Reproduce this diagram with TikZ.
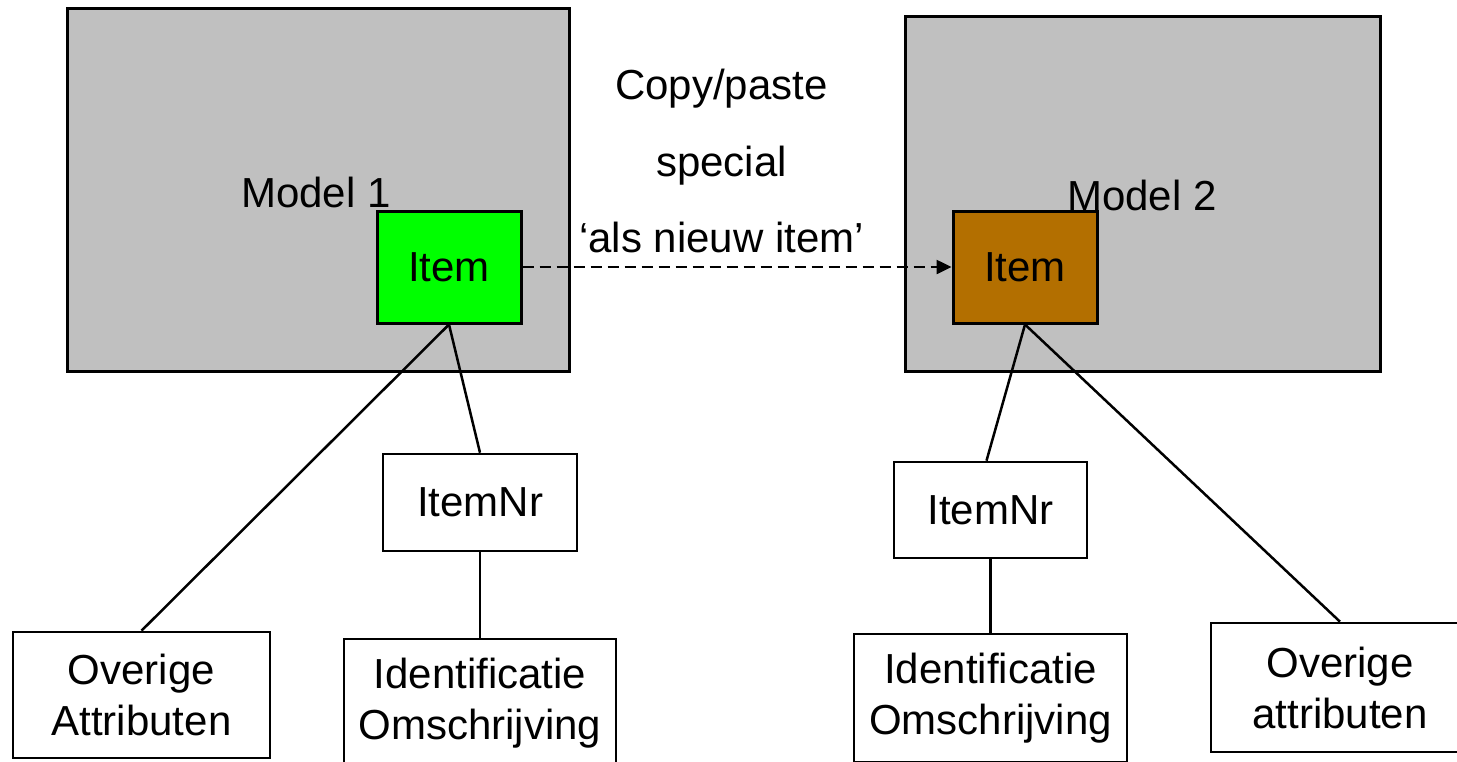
\documentclass[tikz,border=0pt]{standalone}
\usepackage{fontspec}
\setmainfont{Liberation Sans}
\usetikzlibrary{arrows.meta}

\definecolor{modelgray}{RGB}{192,192,192}
\definecolor{itemgreen}{RGB}{0,255,0}
\definecolor{itembrown}{RGB}{179,111,0}

\tikzset{
    modelbox/.style={draw, line width=3pt, fill=modelgray, inner sep=0pt},
    itembox/.style={draw, line width=3pt, minimum width=144pt, minimum height=112pt, inner sep=0pt},
    attrbox/.style={draw, fill=white, line width=2.6pt, align=center, inner sep=0pt},
    lbl/.style={font=\fontsize{42}{51}\selectfont, anchor=base},
    link/.style={line width=2.5pt}
}

\begin{document}
\begin{tikzpicture}[x=1pt, y=-1pt, every node/.append style={font=\fontsize{42}{51}\selectfont}]
        \useasboundingbox (0,0) rectangle (1457,761);

        % the two models
        \node[modelbox, minimum width=502pt, minimum height=363pt] (model1) at (318,189.5) {};
        \node[modelbox, minimum width=475pt, minimum height=355pt] (model2) at (1142.5,193.5) {};
        \node[lbl] (m1label) at (316,207) {Model 1};
        \node[lbl] (m2label) at (1142,210) {Model 2};

        % copy text
        \node[lbl] (copy) at (721.5,99) {Copy/paste};
        \node[lbl] (special) at (721.5,176) {special};
        \node[lbl] (asnew) at (721.5,252) {`als nieuw item'};

        % attribute boxes
        \node[attrbox, minimum width=194pt, minimum height=97pt] (nr1) at (480,502.5) {ItemNr};
        \node[attrbox, minimum width=193pt, minimum height=96pt] (nr2) at (990.5,510) {ItemNr};
        \node[attrbox, minimum width=257pt, minimum height=126pt] (ov1) at (141.5,695) {Overige\\Attributen};
        \node[attrbox, minimum width=272pt, minimum height=128pt] (id1) at (480,703) {Identificatie\\Omschrijving};
        \node[attrbox, minimum width=273pt, minimum height=128pt] (id2) at (990.5,698) {Identificatie\\Omschrijving};
        \node[attrbox, minimum width=258pt, minimum height=129pt] (ov2) at (1340,687.5) {Overige\\attributen};

        % the items
        \node[itembox, fill=itemgreen] (item1) at (449,267) {Item};
        \node[itembox, fill=itembrown] (item2) at (1025,267) {Item};

        \draw[link] (item1.south) -- (ov1.north);
        \draw[link] (item1.south) -- (nr1.north);
        \draw[link] (nr1.south) -- (id1.north);

        \draw[link] (item2.south) -- ([xshift=-4pt]nr2.north);
        \draw[link] (item2.south) -- (ov2.north);
        \draw[link] (nr2.south) -- (id2.north);

        \draw[link, dash pattern=on 11pt off 6pt, -{Triangle[length=15pt, width=14pt]}] (item1.east) -- (item2.west);

    \end{tikzpicture}
\end{document}
